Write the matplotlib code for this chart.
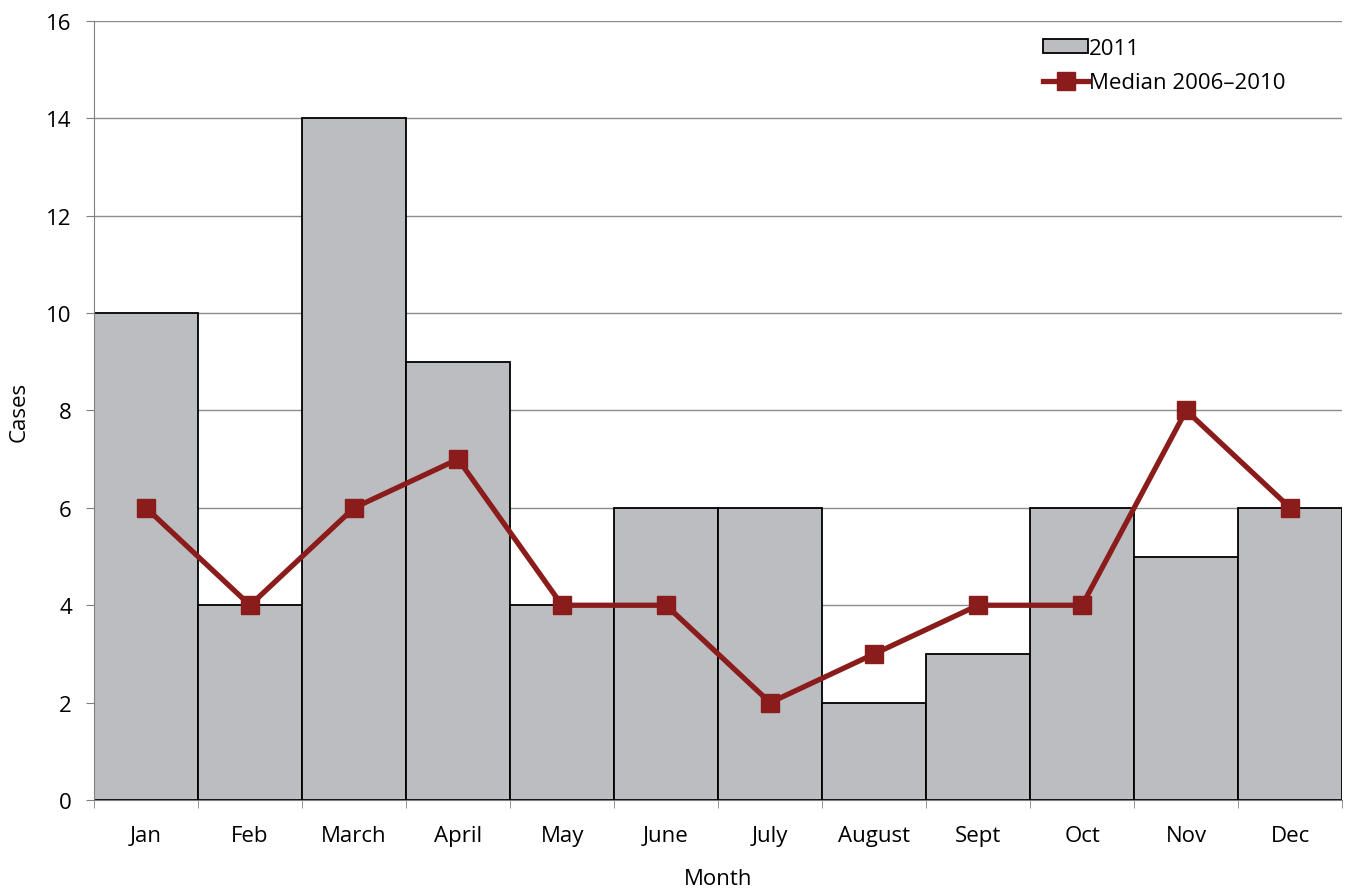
import matplotlib
matplotlib.use('Agg')
import matplotlib.pyplot as plt
import numpy as np

months = ['Jan', 'Feb', 'March', 'April', 'May', 'June', 'July',
          'August', 'Sept', 'Oct', 'Nov', 'Dec']
cases_2011 = [10, 4, 14, 9, 4, 6, 6, 2, 3, 6, 5, 6]
median_2006_2010 = [6, 4, 6, 7, 4, 4, 2, 3, 4, 4, 8, 6]

plt.rcParams['font.family'] = ['Open Sans', 'DejaVu Sans']
plt.rcParams['font.size'] = 16

fig = plt.figure(figsize=(13.45, 8.95), dpi=100)
ax = fig.add_axes([0.0699, 0.105, 0.928, 0.8705])

x = np.arange(len(months))
bars = ax.bar(x, cases_2011, width=1.0, color='#bcbdc1', edgecolor='black',
              linewidth=1.3, label='2011', zorder=2)
line, = ax.plot(x, median_2006_2010, color='#8b1c1c', linewidth=3.8, marker='s',
                markersize=13, label='Median 2006\u20132010', zorder=3)

ax.set_xlim(-0.5, len(months) - 0.5)
ax.set_ylim(0, 16)
ax.set_yticks(range(0, 17, 2))
ax.yaxis.grid(True, color='#8c8c8c', linewidth=1.0, zorder=0)
ax.set_axisbelow(True)

ax.set_xticks(x)
ax.set_xticklabels(months)
ax.set_xticks(np.arange(-0.5, len(months)), minor=True)
ax.tick_params(axis='x', which='major', length=0, pad=18)
ax.tick_params(axis='x', which='minor', length=6, color='#808080', direction='out')
ax.tick_params(axis='y', length=6, color='#808080', direction='out', pad=10)

for side in ('top', 'right'):
    ax.spines[side].set_visible(False)
ax.spines['left'].set_color('#808080')
ax.spines['bottom'].set_color('#808080')

ax.set_xlabel('Month', labelpad=16)
ax.set_ylabel('Cases', labelpad=12)

ax.legend([bars, line], ['2011', 'Median 2006\u20132010'],
          loc='upper left', bbox_to_anchor=(0.75, 0.995), frameon=False,
          handlelength=2.0, handleheight=0.6, handletextpad=0.05,
          labelspacing=0.6, fontsize=16, borderaxespad=0.2)

fig.savefig('out.png', dpi=100)
